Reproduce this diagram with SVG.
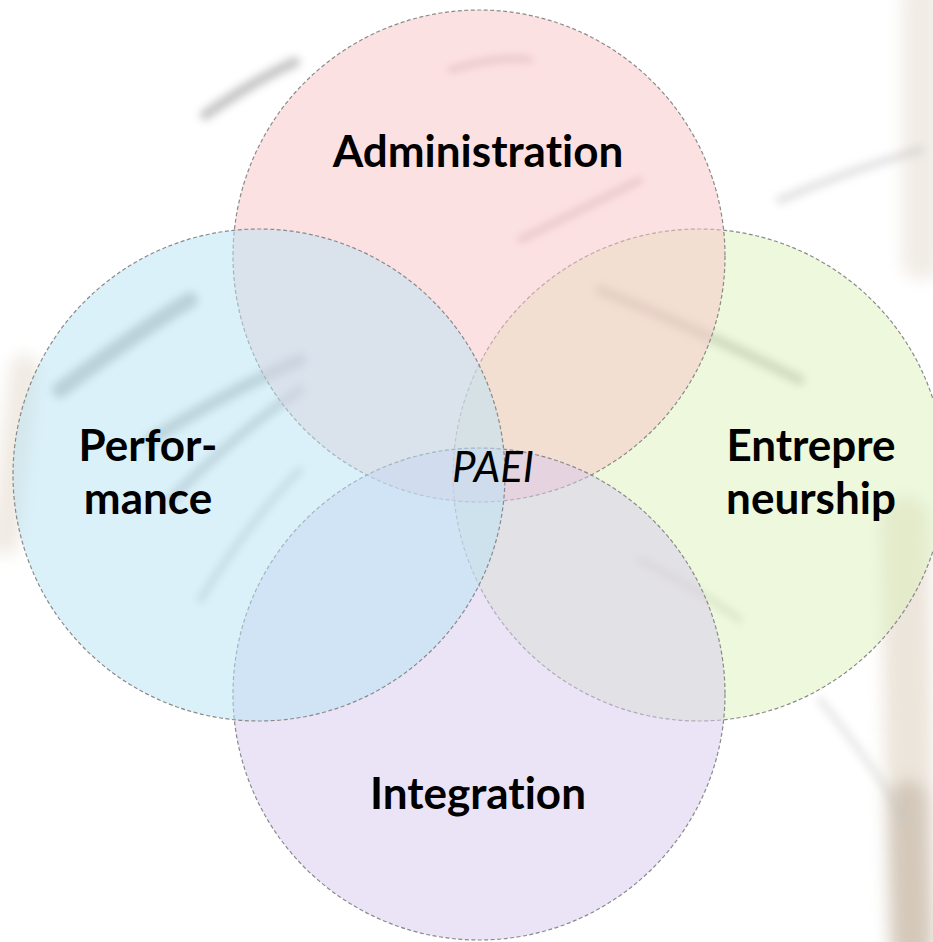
<svg xmlns="http://www.w3.org/2000/svg" width="933" height="942" viewBox="0 0 933 942">
  <defs>
    <style>
      .ring { stroke: #8a8a8a; stroke-width: 1.2; stroke-dasharray: 4 2.5; }
      .label { font-family: Lato, "Liberation Sans", sans-serif; font-weight: bold; font-size: 44px; fill: #000; text-anchor: middle; font-variant-ligatures: none; font-feature-settings: "liga" 0, "clig" 0; }
      .core { font-family: Lato, "Liberation Sans", sans-serif; font-style: italic; font-size: 42px; fill: #000; text-anchor: middle; font-variant-ligatures: none; }
      .stalk { fill: none; stroke-linecap: round; }
    </style>
    <filter id="soft" filterUnits="userSpaceOnUse" x="-100" y="-100" width="1133" height="1142">
      <feGaussianBlur stdDeviation="4"/>
    </filter>
    <filter id="softer" filterUnits="userSpaceOnUse" x="-100" y="-100" width="1133" height="1142">
      <feGaussianBlur stdDeviation="8"/>
    </filter>
  </defs>

  <!-- paper background with faint bamboo brushwork -->
  <rect width="933" height="942" fill="#ffffff"/>
  <g id="bamboo">
    <g opacity="0.6" filter="url(#softer)">
      <path class="stalk" d="M922 0 L922 260" stroke="#e8e0d6" stroke-width="40"/>
      <path class="stalk" d="M905 520 L912 942" stroke="#e0d4c4" stroke-width="48"/>
      <path class="stalk" d="M908 800 L912 942" stroke="#b8a58c" stroke-width="40"/>
      <path class="stalk" d="M25 370 L5 540" stroke="#e6ddd0" stroke-width="30"/>
    </g>
    <g opacity="0.45" filter="url(#soft)">
      <path class="stalk" d="M60 390 Q140 330 190 300" stroke="#6f6f6f" stroke-width="16"/>
      <path class="stalk" d="M150 440 Q230 390 300 360" stroke="#7a7a7a" stroke-width="12"/>
      <path class="stalk" d="M170 500 Q240 430 300 390" stroke="#808080" stroke-width="9"/>
      <path class="stalk" d="M200 600 Q250 520 300 470" stroke="#909090" stroke-width="6"/>
      <path class="stalk" d="M205 115 Q255 80 295 62" stroke="#7a7a7a" stroke-width="10"/>
      <path class="stalk" d="M450 70 Q500 55 530 60" stroke="#a07a7a" stroke-width="6"/>
      <path class="stalk" d="M520 240 Q600 200 640 180" stroke="#a07a7a" stroke-width="6"/>
      <path class="stalk" d="M600 290 Q700 330 800 380" stroke="#7a7a7a" stroke-width="10"/>
      <path class="stalk" d="M640 560 Q700 590 740 620" stroke="#8a8a8a" stroke-width="5"/>
      <path class="stalk" d="M780 200 Q850 170 920 150" stroke="#bdbdbd" stroke-width="8"/>
      <path class="stalk" d="M820 700 Q870 760 905 820" stroke="#c4c4c4" stroke-width="6"/>
    </g>
  </g>

  <!-- four overlapping role circles -->
  <g id="entrepreneurship">
    <circle class="ring" cx="699" cy="475" r="246" fill="#dcf2bc" fill-opacity="0.5"/>
    <text class="label" x="811" y="461">Entrepre</text>
    <text class="label" x="811" y="514">neurship</text>
  </g>
  <g id="administration">
    <circle class="ring" cx="479" cy="256" r="246" fill="#f9c4c7" fill-opacity="0.5"/>
    <text class="label" x="478" y="167">Administration</text>
  </g>
  <g id="integration">
    <circle class="ring" cx="479" cy="694" r="246" fill="#d8c9ee" fill-opacity="0.5"/>
    <text class="label" x="478" y="809">Integration</text>
  </g>
  <g id="performance">
    <circle class="ring" cx="259" cy="475" r="246" fill="#b7e4f6" fill-opacity="0.5"/>
    <text class="label" x="148" y="461">Perfor-</text>
    <text class="label" x="148" y="514">mance</text>
  </g>

  <!-- shared centre -->
  <g id="paei">
    <text class="core" x="493" y="482">PAEI</text>
  </g>
</svg>
